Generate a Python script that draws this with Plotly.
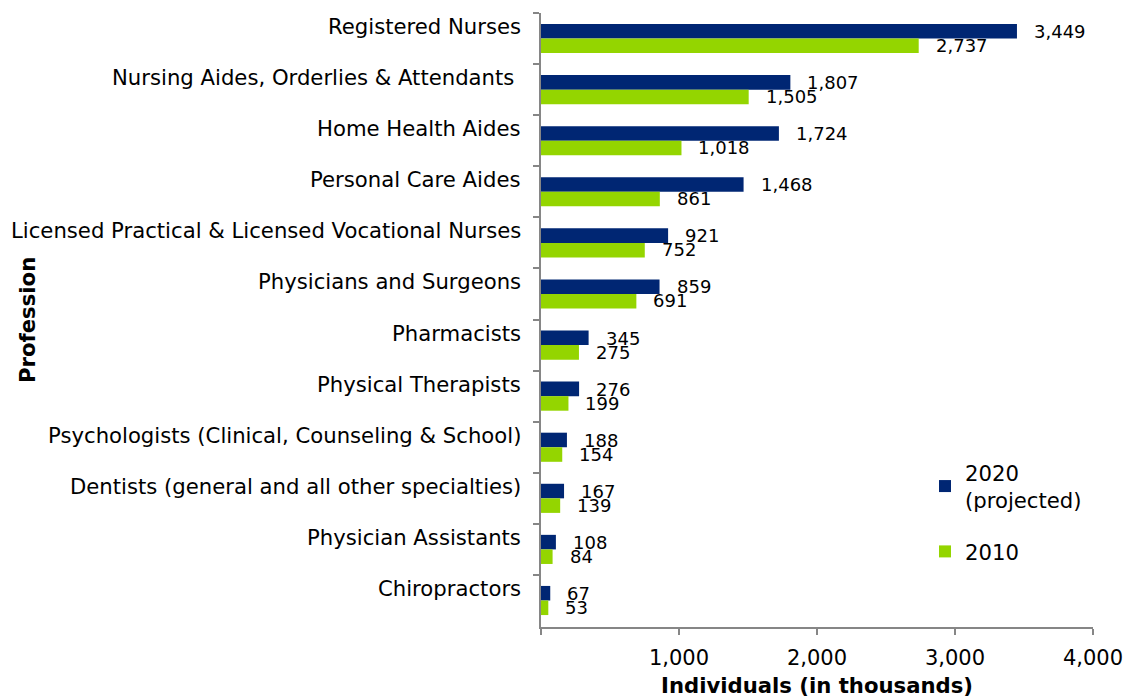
import plotly.graph_objects as go

categories = [
    "Registered Nurses",
    "Nursing Aides, Orderlies & Attendants\u00a0",
    "Home Health Aides",
    "Personal Care Aides",
    "Licensed Practical & Licensed Vocational Nurses",
    "Physicians and Surgeons",
    "Pharmacists",
    "Physical Therapists",
    "Psychologists (Clinical, Counseling & School)",
    "Dentists (general and all other specialties)",
    "Physician Assistants",
    "Chiropractors",
]
values_2020 = [3449, 1807, 1724, 1468, 921, 859, 345, 276, 188, 167, 108, 67]
values_2010 = [2737, 1505, 1018, 861, 752, 691, 275, 199, 154, 139, 84, 53]
x_ticks = [0, 1000, 2000, 3000, 4000]
x_tick_text = ["", "1,000", "2,000", "3,000", "4,000"]

NAVY = "#002673"
GREEN = "#94D500"
AXIS = "#868686"
FONT = "DejaVu Sans"
BIG = 21.2

fig = go.Figure()
fig.add_trace(go.Bar(
    y=categories, x=values_2020, orientation="h", name="2020<br>(projected)",
    marker=dict(color=NAVY, line=dict(width=0)), legendgroup="a",
))
fig.add_trace(go.Bar(
    y=categories, x=values_2010, orientation="h", name="2010",
    marker=dict(color=GREEN, line=dict(width=0)), legendgroup="b",
))

annotations = []
for cat, v in zip(categories, values_2020):
    annotations.append(dict(x=v, y=cat, xref="x", yref="y", text=f"{v:,}", showarrow=False,
                            xanchor="left", yanchor="middle", xshift=15, yshift=7,
                            font=dict(family=FONT, size=18, color="#000")))
for cat, v in zip(categories, values_2010):
    annotations.append(dict(x=v, y=cat, xref="x", yref="y", text=f"{v:,}", showarrow=False,
                            xanchor="left", yanchor="middle", xshift=15, yshift=-7,
                            font=dict(family=FONT, size=18, color="#000")))
for cat in categories:
    annotations.append(dict(x=0, y=cat, xref="paper", yref="y", text=cat, showarrow=False,
                            xanchor="right", yanchor="middle", xshift=-18, yshift=12,
                            font=dict(family=FONT, size=BIG, color="#000")))
annotations.append(dict(x=(27 - 541) / 552, y=0.5, xref="paper", yref="paper", text="<b>Profession</b>",
                        showarrow=False, textangle=-90, xanchor="center", yanchor="middle",
                        font=dict(family=FONT, size=BIG, color="#000")))

fig.update_layout(
    width=1127, height=698,
    margin=dict(l=541, r=34, t=13, b=71),
    paper_bgcolor="white", plot_bgcolor="white",
    barmode="group", bargap=0.43, bargroupgap=0,
    font=dict(family=FONT, size=BIG, color="#000"),
    showlegend=True,
    legend=dict(x=(925 - 541) / 552, y=(627 - 452) / 614, xanchor="left", yanchor="top",
                font=dict(family=FONT, size=BIG, color="#000"), tracegroupgap=21,
                bgcolor="rgba(0,0,0,0)", traceorder="grouped"),
    annotations=annotations,
)
fig.update_xaxes(
    range=[0, 4000], tickvals=x_ticks, ticktext=x_tick_text, showgrid=False, zeroline=False,
    showline=True, linecolor=AXIS, linewidth=1.5, ticks="outside", ticklen=6, tickcolor=AXIS,
    tickwidth=1.5, tickfont=dict(family=FONT, size=21, color="#000"), ticklabelstandoff=5,
    automargin=False,
    title=dict(text="<b>Individuals (in thousands)</b>", standoff=21,
               font=dict(family=FONT, size=BIG, color="#000")),
)
fig.update_yaxes(
    autorange="reversed", showticklabels=False, showgrid=False, zeroline=False,
    showline=True, linecolor=AXIS, linewidth=1.5, ticks="outside", ticklen=6, tickcolor=AXIS,
    tickwidth=1.5, tickson="boundaries", automargin=False,
)
# remove the default page margin so the figure fills the window exactly
fig.write_html("out.html", config={"displayModeBar": False},
               post_script="document.body.style.margin='0';document.body.style.overflow='hidden';")
